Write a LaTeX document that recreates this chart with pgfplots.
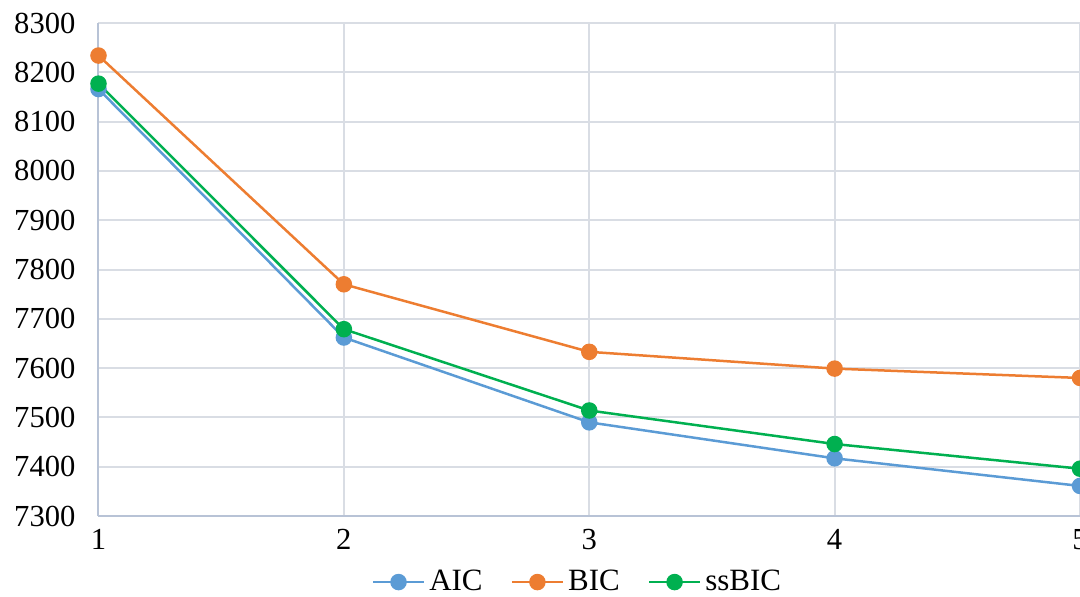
\documentclass[border=0pt]{standalone}
\usepackage{pgfplots}
\pgfplotsset{compat=1.18}
\usepackage{fontspec}
\setmainfont{Liberation Serif}
\definecolor{cAIC}{HTML}{5B9BD5}
\definecolor{cBIC}{HTML}{ED7D31}
\definecolor{cSS}{HTML}{00B050}
\definecolor{gridc}{HTML}{D9DDE4}
\definecolor{axc}{HTML}{B8C3D6}
\begin{document}
\begin{tikzpicture}
\begin{axis}[
  scale only axis,
  width=490.75pt, height=246.5pt,
  xmin=1, xmax=5, ymin=7300, ymax=8300,
  xtick={1,2,3,4,5}, ytick={7300,7400,...,8300},
  grid=major,
  major grid style={gridc, line width=1pt},
  axis line style={axc, line width=1pt},
  axis x line*=bottom, axis y line*=left,
  tick style={draw=none},
  /pgf/number format/assume math mode=true,
  /pgf/number format/set thousands separator={},
  ticklabel style={font=\fontsize{15.3}{18}\selectfont},
  yticklabel style={xshift=-8pt},
  xticklabel style={yshift=-3pt},
  clip=false,
  legend style={at={(0.489,-0.134)}, anchor=center, draw=none, fill=none,
    legend columns=-1, font=\fontsize{15.5}{18}\selectfont,
    /tikz/every even column/.append style={column sep=12pt}},
  legend image code/.code={\draw[mark repeat=2,mark phase=2] plot coordinates {(0pt,0pt) (12.75pt,0pt) (25.5pt,0pt)};},
  every axis plot/.append style={line width=1.25pt, mark=*, mark size=3.5pt},
]
\addplot[cAIC, mark options={fill=cAIC, draw=cAIC}] coordinates {(1,8166) (2,7662) (3,7490) (4,7417) (5,7361)};
\addlegendentry{AIC}
\addplot[cBIC, mark options={fill=cBIC, draw=cBIC}] coordinates {(1,8234) (2,7770) (3,7633) (4,7599) (5,7580)};
\addlegendentry{BIC}
\addplot[cSS, mark options={fill=cSS, draw=cSS}] coordinates {(1,8177) (2,7679) (3,7514) (4,7446) (5,7396)};
\addlegendentry{ssBIC}
\coordinate (sw) at (rel axis cs:0,0);
\coordinate (ne) at (rel axis cs:1,1);
\end{axis}
\pgfresetboundingbox
\path ([xshift=-49.25pt,yshift=-40pt]sw) rectangle ([yshift=11.5pt]ne);
\end{tikzpicture}
\end{document}
